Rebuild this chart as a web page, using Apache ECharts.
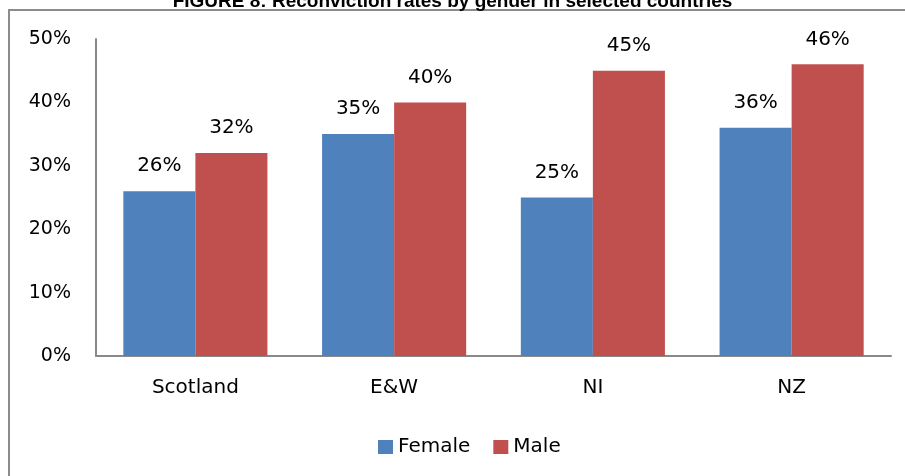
<!DOCTYPE html>
<html>
<head>
<meta charset="utf-8">
<script src="https://cdn.jsdelivr.net/npm/echarts@6/dist/echarts.min.js"></script>
<style>
  html, body { margin: 0; padding: 0; background: #fff; overflow: hidden; }
  #main { width: 905px; height: 476px; }
</style>
</head>
<body>
<div id="main"></div>
<script>
  // values
  var countries = ['Scotland', 'E&W', 'NI', 'NZ'];
  var female = [26, 35, 25, 36];
  var male = [32, 40, 45, 46];
  var seriesNames = ['Female', 'Male'];

  var font = 'DejaVu Sans';
  var chart = echarts.init(document.getElementById('main'));

  var labelStyle = {
    show: true,
    position: 'top',
    distance: 15,
    formatter: '{c}%',
    color: '#000',
    fontFamily: font,
    fontSize: 20
  };

  chart.setOption({
    animation: false,
    title: {
      text: 'FIGURE 8: Reconviction rates by gender in selected countries',
      left: 'center',
      top: -13,
      textStyle: {
        fontFamily: 'Liberation Sans',
        fontWeight: 'bold',
        fontSize: 19,
        color: '#000'
      }
    },
    graphic: [
      // chart frame, its right and bottom edges run off the page
      {
        type: 'rect',
        silent: true,
        shape: { x: 9, y: 10, width: 1200, height: 800 },
        style: { stroke: '#8c8c8c', lineWidth: 2, fill: 'none' }
      }
    ],
    legend: {
      data: seriesNames,
      left: 373,
      top: 432,
      itemWidth: 15,
      itemHeight: 14,
      itemGap: 23,
      icon: 'rect',
      textStyle: { fontFamily: font, fontSize: 20, color: '#000' }
    },
    grid: { left: 96, right: 14, top: 39, bottom: 120 },
    xAxis: {
      type: 'category',
      data: countries,
      axisLine: { lineStyle: { color: '#898989', width: 2 } },
      axisTick: { show: false },
      axisLabel: { margin: 22, color: '#000', fontFamily: font, fontSize: 20 }
    },
    yAxis: {
      type: 'value',
      min: 0,
      max: 50,
      interval: 10,
      axisLine: { show: true, lineStyle: { color: '#898989', width: 2 } },
      axisTick: { show: false },
      splitLine: { show: false },
      axisLabel: {
        margin: 25,
        formatter: '{value}%',
        color: '#000',
        fontFamily: font,
        fontSize: 19
      }
    },
    series: [
      {
        name: seriesNames[0],
        type: 'bar',
        data: female,
        barGap: '0%',
        barCategoryGap: '27.5%',
        itemStyle: { color: '#4F81BD' },
        label: labelStyle
      },
      {
        name: seriesNames[1],
        type: 'bar',
        data: male,
        barGap: '0%',
        barCategoryGap: '27.5%',
        itemStyle: { color: '#C0504D' },
        label: labelStyle
      }
    ]
  });
</script>
</body>
</html>
